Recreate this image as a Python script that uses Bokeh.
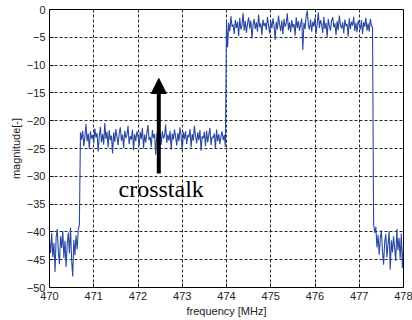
import numpy as np
from bokeh.plotting import figure
from bokeh.models import Range1d, Arrow, NormalHead, Label, FixedTicker
from bokeh.embed import file_html
from bokeh.resources import INLINE

# sampling
f_start = 470.0
f_step = 0.025

# magnitude [-], segment by segment
mag_low_left = [-41.5,-43.8,-40.2,-44.5,-42.0,-47.2,-41.0,-39.5,-43.6,-45.8,-40.8,-42.9,-39.8,-44.7,
                -41.6,-46.3,-42.2,-40.1,-43.9,-39.2,-45.1,-48.0,-41.4,-44.2,-40.6,-43.1,-39.6,-38.8]
mag_crosstalk = [
    -22.1,-23.4,-21.8,-24.6,-22.9,-20.6,-23.7,-22.3,-25.1,-21.9,-23.2,-22.6,
    -24.1,-21.4,-23.0,-22.2,-25.6,-22.8,-21.1,-23.9,-22.4,-24.3,-20.4,-23.3,
    -22.0,-24.8,-21.7,-23.5,-22.7,-25.9,-22.1,-23.8,-21.5,-22.9,-24.4,-22.3,
    -21.2,-23.6,-22.5,-24.9,-21.8,-23.1,-22.6,-20.9,-24.2,-22.8,-23.4,-21.6,
    -25.3,-22.4,-23.7,-21.9,-22.7,-24.6,-22.0,-23.3,-21.3,-25.0,-22.5,-23.9,
    -22.2,-20.8,-23.5,-22.9,-24.7,-21.7,-23.1,-22.4,-26.1,-22.6,-21.4,-23.8,
    -22.1,-24.3,-21.9,-23.2,-22.7,-20.7,-24.0,-22.5,-23.6,-21.8,-25.2,-22.3,
    -23.4,-21.6,-22.9,-24.5,-22.2,-23.7,-21.2,-22.8,-25.5,-22.0,-23.3,-21.9,
    -24.2,-22.6,-23.0,-21.5,-24.8,-22.4,-23.6,-20.9,-22.7,-24.1,-22.1,-23.5,
    -21.7,-25.4,-22.8,-23.2,-22.0,-24.6,-21.8,-23.9,-22.5,-21.3,-24.4,-22.9,
    -23.1,-22.3,-25.0,-21.6,-23.7,-22.4,-24.2,-22.8,-21.9,-23.5,-22.6,-24.7]
mag_channel = [
    -1.8,-6.8,-2.4,-3.9,-1.2,-3.1,-2.7,-4.4,-1.9,-3.3,-2.2,-4.8,
    -1.5,-3.6,-2.9,-0.6,-3.8,-2.1,-4.2,-2.6,-1.4,-3.4,-2.0,-5.2,
    -2.8,-1.7,-3.5,-2.3,-4.0,-0.9,-3.2,-2.5,-4.6,-1.8,-3.0,-2.4,
    -3.7,-1.3,-2.8,-4.3,-2.1,-3.4,-1.6,-2.9,-5.5,-2.2,-3.6,-1.1,
    -2.7,-3.9,-2.0,-4.5,-1.7,-3.1,-2.5,-0.7,-3.7,-2.3,-4.1,-1.9,
    -3.2,-2.6,-4.7,-1.4,-3.3,-2.1,-3.8,-2.7,-1.6,-7.3,-2.4,-3.5,
    -1.2,-0.2,-2.8,-3.6,-1.8,-4.0,-2.2,-3.1,-1.5,-4.4,-2.6,-0.5,
    -3.3,-1.9,-2.7,-4.2,-1.3,-3.5,-2.4,-5.0,-1.7,-2.9,-3.8,-2.0,
    -1.4,-3.2,-2.5,-4.6,-2.1,-3.7,-1.1,-2.8,-3.4,-2.3,-4.3,-1.8,
    -3.0,-2.6,-4.9,-1.6,-3.5,-2.2,-2.9,-1.3,-3.9,-2.4,-4.1,-2.0,
    -2.7,-3.6,-1.9,-4.4,-2.3,-3.1,-1.5,-3.8,-2.5,-4.0,-1.7,-2.9,
    -3.2]
mag_low_right = [-38.6,-40.2,-39.1,-42.8,-40.5,-44.1,-41.3,-39.7,-43.5,-45.9,-41.8,-40.4,-44.6,-42.2,
                 -39.9,-46.8,-41.5,-43.7,-40.8,-42.9,-45.2,-39.5,-43.3,-41.1,-44.8,-40.3,-46.5,-42.4]

x_ticks = [470, 471, 472, 473, 474, 475, 476, 477, 478]
y_ticks = [0, -5, -10, -15, -20, -25, -30, -35, -40, -45, -50]

annot_text = "crosstalk"
arrow_x = 472.47
arrow_y0, arrow_y1 = -29.5, -12.4
text_x, text_y = 471.56, -32.3

mag = np.array(mag_low_left + mag_crosstalk + mag_channel + mag_low_right)
freq = f_start + f_step * np.arange(len(mag))

p = figure(width=412, height=320, output_backend="svg", toolbar_location=None,
           x_range=Range1d(470, 478), y_range=Range1d(-50, 0),
           min_border_left=49, min_border_right=9, min_border_top=9, min_border_bottom=33)
p.background_fill_color = "white"
p.border_fill_color = "white"
p.outline_line_color = "black"
p.outline_line_width = 1

p.line(freq, mag, line_color="#2a48a2", line_width=1.1)

for ax in (p.xaxis[0], p.yaxis[0]):
    ax.major_tick_in = 4
    ax.major_tick_out = 0
    ax.minor_tick_in = 0
    ax.minor_tick_out = 0
    ax.axis_line_color = "black"
    ax.major_tick_line_color = "black"
    ax.major_label_text_font = "Liberation Sans"
    ax.major_label_text_font_size = "11px"
    ax.major_label_text_color = "#222222"
    ax.axis_label_text_font = "Liberation Sans"
    ax.axis_label_text_font_size = "11px"
    ax.axis_label_text_font_style = "normal"
    ax.axis_label_text_color = "#222222"

p.xaxis.ticker = FixedTicker(ticks=x_ticks)
p.yaxis.ticker = FixedTicker(ticks=y_ticks)
p.xaxis.axis_label = "frequency [MHz]"
p.yaxis.axis_label = "magnitude[-]"
p.xaxis.major_label_standoff = 4
p.xaxis.axis_label_standoff = 2
p.yaxis.major_label_standoff = 4
p.yaxis.axis_label_standoff = 2

for g in (p.xgrid[0], p.ygrid[0]):
    g.grid_line_color = "black"
    g.grid_line_dash = "3 2"
    g.grid_line_width = 1
    g.grid_line_alpha = 0.85

p.add_layout(Arrow(end=NormalHead(size=15, fill_color="black", line_color="black"),
                   x_start=arrow_x, y_start=arrow_y0, x_end=arrow_x, y_end=arrow_y1,
                   line_color="black", line_width=4))
p.add_layout(Label(x=text_x, y=text_y, text=annot_text, text_font="Liberation Serif",
                   text_font_size="24px", text_color="black", text_baseline="alphabetic"))

open("out.html", "w").write(file_html(p, INLINE))
